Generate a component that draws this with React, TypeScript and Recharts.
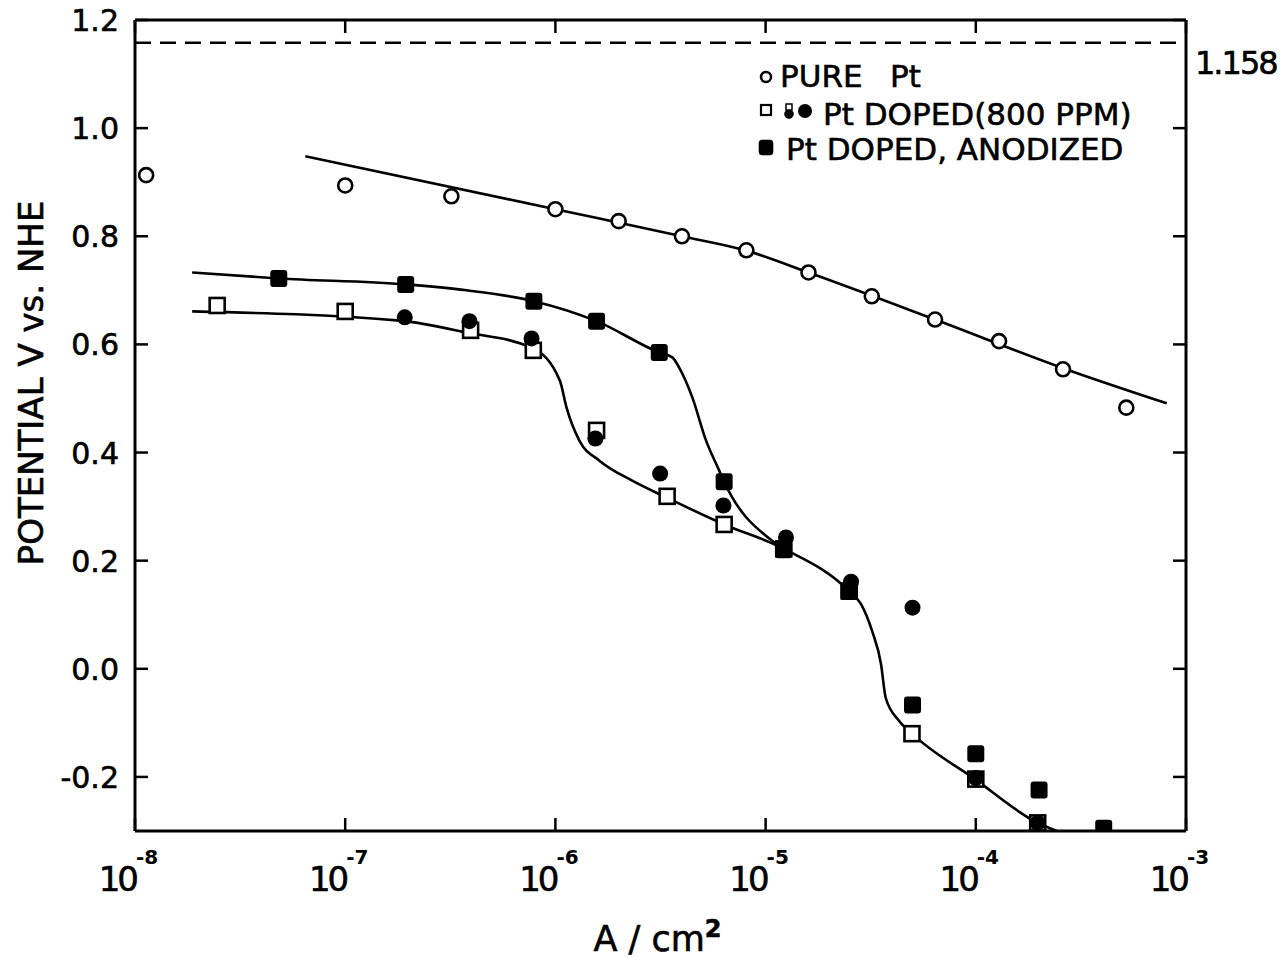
import React from 'react';
import { ComposedChart, Line, Scatter, XAxis, YAxis, ReferenceLine } from 'recharts';

const FONT = '"DejaVu Sans", sans-serif';

// current density (A/cm^2) and potential (V vs NHE)
const pureX = [1.13e-8, 1.0e-7, 3.2e-7, 1.0e-6, 2.0e-6, 4.0e-6, 8.1e-6, 1.6e-5, 3.2e-5, 6.4e-5, 1.29e-4, 2.6e-4, 5.2e-4];
const pureY = [0.913, 0.894, 0.874, 0.85, 0.828, 0.8, 0.774, 0.733, 0.689, 0.646, 0.606, 0.554, 0.483];

const dopedOpenX = [2.46e-8, 1.0e-7, 3.95e-7, 7.85e-7, 1.57e-6, 3.4e-6, 6.35e-6, 1.22e-5, 2.5e-5, 4.97e-5, 1.0e-4, 1.97e-4];
const dopedOpenY = [0.672, 0.661, 0.626, 0.589, 0.441, 0.319, 0.267, 0.222, 0.144, -0.12, -0.204, -0.285];

const dopedFilledX = [1.92e-7, 3.9e-7, 7.7e-7, 1.55e-6, 3.15e-6, 6.3e-6, 1.25e-5, 2.55e-5, 5.0e-5, 1.0e-4, 1.97e-4];
const dopedFilledY = [0.65, 0.643, 0.611, 0.426, 0.361, 0.302, 0.243, 0.161, 0.113, -0.202, -0.285];

const anodX = [4.83e-8, 1.94e-7, 7.9e-7, 1.57e-6, 3.12e-6, 6.35e-6, 1.22e-5, 2.49e-5, 5.0e-5, 1.0e-4, 2.0e-4, 4.06e-4];
const anodY = [0.722, 0.711, 0.68, 0.643, 0.585, 0.346, 0.22, 0.143, -0.067, -0.157, -0.224, -0.295];

// hand-drawn curves
const pureFitX = [6.46e-8, 1.0e-6, 4.0e-6, 8.0e-6, 1.6e-5, 6.4e-5, 2.6e-4, 8.1e-4];
const pureFitY = [0.948, 0.85, 0.8, 0.774, 0.733, 0.646, 0.556, 0.491];

const dopedFitX = [1.87e-8, 1.82e-7, 3.78e-7, 7.78e-7, 1.05e-6, 1.13e-6, 1.3e-6, 1.62e-6, 2.32e-6, 3.37e-6, 6.35e-6, 1.22e-5, 2.49e-5, 2.84e-5, 3.21e-5, 3.54e-5, 3.73e-5, 4.31e-5, 4.97e-5, 0.99e-4, 1.97e-4, 2.43e-4];
const dopedFitY = [0.661, 0.644, 0.622, 0.593, 0.533, 0.483, 0.422, 0.385, 0.348, 0.317, 0.267, 0.222, 0.144, 0.12, 0.07, 0.009, -0.054, -0.096, -0.12, -0.204, -0.285, -0.3];

const anodFitX = [1.87e-8, 4.83e-8, 1.94e-7, 3.78e-7, 7.9e-7, 1.57e-6, 3.12e-6, 3.6e-6, 3.88e-6, 4.48e-6, 5.21e-6, 6.01e-6, 6.35e-6, 1.12e-5, 1.22e-5];
const anodFitY = [0.733, 0.722, 0.711, 0.7, 0.68, 0.643, 0.585, 0.576, 0.557, 0.502, 0.422, 0.367, 0.346, 0.231, 0.22];

const xTicks = [1e-8, 1e-7, 1e-6, 1e-5, 1e-4, 1e-3];
const yTicks = [-0.2, 0, 0.2, 0.4, 0.6, 0.8, 1.0, 1.2];
const refLevel = 1.158;

const zip = (xs: number[], ys: number[]) => xs.map((x, i) => ({ x, y: ys[i] }));

const pure = zip(pureX, pureY);
const dopedOpen = zip(dopedOpenX, dopedOpenY);
const dopedFilled = zip(dopedFilledX, dopedFilledY);
const anod = zip(anodX, anodY);
const pureFit = zip(pureFitX, pureFitY);
const dopedFit = zip(dopedFitX, dopedFitY);
const anodFit = zip(anodFitX, anodFitY);

const INK = { fill: '#000', stroke: '#000', strokeWidth: 0.6 };

const OpenCircle = (p: any) => <circle cx={p.cx} cy={p.cy} r={7} fill="#fff" stroke="#000" strokeWidth={2.6} />;
const FilledCircle = (p: any) => <circle cx={p.cx} cy={p.cy} r={8} fill="#000" />;
const OpenSquare = (p: any) => (
  <rect x={p.cx - 7.5} y={p.cy - 7.5} width={15} height={15} fill="#fff" stroke="#000" strokeWidth={2.6} />
);
const FilledSquare = (p: any) => <rect x={p.cx - 8.5} y={p.cy - 8.5} width={17} height={17} rx={3} fill="#000" />;

const BottomTick = (props: any) => {
  const { x, y, payload } = props;
  const exp = Math.round(Math.log10(payload.value));
  return (
    <g>
      <line x1={x} y1={y} x2={x} y2={y - 13} stroke="#000" strokeWidth={2.5} />
      <text x={x + 1} y={y + 60} textAnchor="end" fontSize={34} letterSpacing={-3} fontFamily={FONT} {...INK}>
        10
      </text>
      <text x={x + 1} y={y + 33} textAnchor="start" fontSize={20} fontWeight="bold" fontFamily={FONT} fill="#000">
        {'-' + Math.abs(exp)}
      </text>
    </g>
  );
};

const TopTick = (props: any) => (
  <line x1={props.x} y1={props.y} x2={props.x} y2={props.y + 13} stroke="#000" strokeWidth={2.5} />
);

const LeftTick = (props: any) => {
  const { x, y, payload } = props;
  const v = payload.value;
  return (
    <g>
      <line x1={x} y1={y} x2={x + 13} y2={y} stroke="#000" strokeWidth={2.5} />
      <text x={x - 16} y={y + 11} textAnchor="end" fontSize={30} fontFamily={FONT} {...INK}>
        {v.toFixed(1)}
      </text>
    </g>
  );
};

const RightTick = (props: any) => (
  <line x1={props.x} y1={props.y} x2={props.x - 13} y2={props.y} stroke="#000" strokeWidth={2.5} />
);

const XTitle = (props: any) => {
  const vb = props.viewBox;
  return (
    <text x={vb.x + vb.width / 2 - 3} y={951} textAnchor="middle" fontSize={35} fontFamily={FONT} {...INK}>
      A / cm<tspan dy={-14} fontSize={24} fontWeight="bold">2</tspan>
    </text>
  );
};

const YTitle = () => (
  <text
    x={31}
    y={383}
    transform="rotate(-90 31 383)"
    textAnchor="middle"
    dominantBaseline="central"
    fontSize={34}
    fontFamily={FONT}
    {...INK}
  >
    POTENTIAL V vs. NHE
  </text>
);

const RefLabel = (props: any) => {
  const vb = props.viewBox;
  return (
    <text x={vb.x + vb.width + 9} y={vb.y + 31} fontSize={32} letterSpacing={-2} fontFamily={FONT} {...INK}>
      1.158
    </text>
  );
};

const LegendBox = () => (
  <svg width={1280} height={958} style={{ position: 'absolute', left: 0, top: 0, pointerEvents: 'none' }}>
    <g fontFamily={FONT} fontSize={31} {...INK}>
      <circle cx={766} cy={77} r={5} fill="#fff" stroke="#000" strokeWidth={2.5} />
      <text x={780} y={87}>
        PURE<tspan x={890}>Pt</tspan>
      </text>

      <rect x={761} y={105} width={10} height={10} fill="#fff" stroke="#000" strokeWidth={2.2} />
      <circle cx={789} cy={114} r={4.5} fill="#000" />
      <rect x={786} y={104} width={6} height={6} fill="#fff" stroke="#000" strokeWidth={1.5} />
      <circle cx={805} cy={111} r={7} fill="#000" strokeWidth={0} />
      <text x={823} y={125}>Pt DOPED(800 PPM)</text>

      <rect x={759} y={140} width={14} height={15} rx={3} fill="#000" />
      <text x={786} y={160}>Pt DOPED, ANODIZED</text>
    </g>
  </svg>
);

export default function App() {
  return (
    <div style={{ position: 'absolute', left: 0, top: 0, width: 1280, height: 958, background: '#fff' }}>
      <ComposedChart width={1280} height={958} margin={{ top: 0, right: 0, bottom: 0, left: 0 }}>
        <XAxis
          dataKey="x"
          type="number"
          scale="log"
          domain={[1e-8, 1e-3]}
          ticks={xTicks}
          interval={0}
          allowDataOverflow
          height={127}
          axisLine={{ stroke: '#000', strokeWidth: 3 }}
          tickLine={false}
          tickSize={0}
          tickMargin={0}
          tick={<BottomTick />}
          label={XTitle}
        />
        <XAxis
          xAxisId="top"
          orientation="top"
          dataKey="x"
          type="number"
          scale="log"
          domain={[1e-8, 1e-3]}
          ticks={xTicks}
          interval={0}
          allowDataOverflow
          height={20}
          axisLine={{ stroke: '#000', strokeWidth: 3 }}
          tickLine={false}
          tickSize={0}
          tickMargin={0}
          tick={<TopTick />}
        />
        <YAxis
          dataKey="y"
          type="number"
          domain={[-0.3, 1.2]}
          ticks={yTicks}
          interval={0}
          allowDataOverflow
          width={135}
          axisLine={{ stroke: '#000', strokeWidth: 3 }}
          tickLine={false}
          tickSize={0}
          tickMargin={0}
          tick={<LeftTick />}
          label={YTitle}
        />
        <YAxis
          yAxisId="right"
          orientation="right"
          type="number"
          domain={[-0.3, 1.2]}
          ticks={yTicks}
          interval={0}
          allowDataOverflow
          width={94}
          axisLine={{ stroke: '#000', strokeWidth: 3 }}
          tickLine={false}
          tickSize={0}
          tickMargin={0}
          tick={<RightTick />}
        />

        <ReferenceLine y={refLevel} stroke="#000" strokeWidth={2.5} strokeDasharray="16 9" label={RefLabel} />

        <Line data={pureFit} dataKey="y" type="monotone" stroke="#000" strokeWidth={2.6} dot={false} isAnimationActive={false} />
        <Line data={dopedFit} dataKey="y" type="monotone" stroke="#000" strokeWidth={2.6} dot={false} isAnimationActive={false} />
        <Line data={anodFit} dataKey="y" type="monotone" stroke="#000" strokeWidth={2.6} dot={false} isAnimationActive={false} />

        <Scatter data={pure} dataKey="y" shape={OpenCircle} isAnimationActive={false} />
        <Scatter data={dopedOpen} dataKey="y" shape={OpenSquare} isAnimationActive={false} />
        <Scatter data={dopedFilled} dataKey="y" shape={FilledCircle} isAnimationActive={false} />
        <Scatter data={anod} dataKey="y" shape={FilledSquare} isAnimationActive={false} />
      </ComposedChart>
      <LegendBox />
    </div>
  );
}
